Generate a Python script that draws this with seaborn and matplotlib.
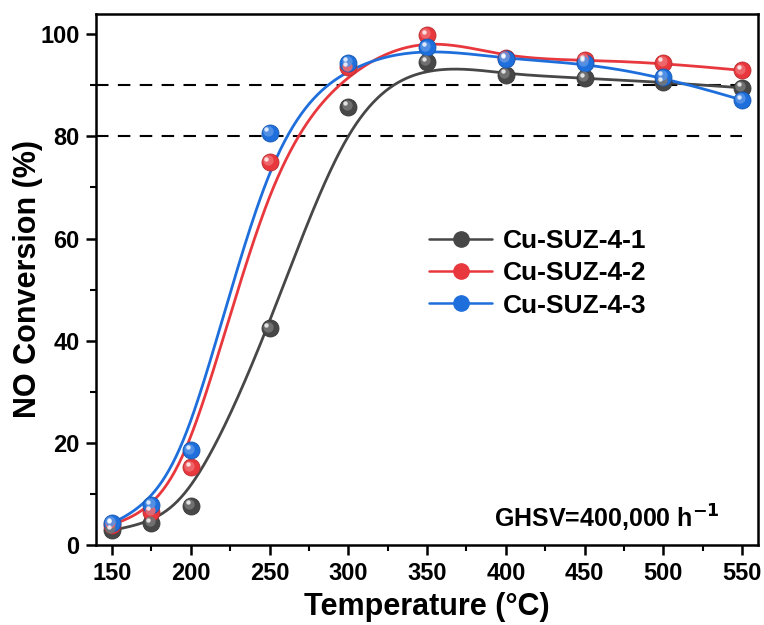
import numpy as np
import pandas as pd
import matplotlib
matplotlib.use("Agg")
import matplotlib.pyplot as plt
import matplotlib.transforms as mtransforms
from matplotlib.lines import Line2D
import matplotlib.colors as mcolors
import seaborn as sns

# ---- data ----
temps = [150, 175, 200, 250, 300, 350, 400, 450, 500, 550]
cu_suz_4_1 = [2.9, 4.3, 7.7, 42.4, 85.8, 94.5, 92.1, 91.4, 90.6, 89.5]
cu_suz_4_2 = [4.0, 6.5, 15.2, 75.0, 93.5, 99.8, 95.3, 94.9, 94.4, 92.9]
cu_suz_4_3 = [4.3, 7.8, 18.5, 80.7, 94.4, 97.4, 95.1, 94.4, 91.7, 87.1]
series_names = ["Cu-SUZ-4-1", "Cu-SUZ-4-2", "Cu-SUZ-4-3"]
ref_levels = [80, 90]
x_ticks = [150, 200, 250, 300, 350, 400, 450, 500, 550]
y_ticks = [0, 20, 40, 60, 80, 100]

colors = ["#474747", "#e8383d", "#1e6fdc"]

sns.set_theme(style="ticks")
plt.rcParams["font.family"] = ["Liberation Sans Narrow", "Liberation Sans", "DejaVu Sans"]
plt.rcParams["font.weight"] = "bold"
plt.rcParams["mathtext.default"] = "bf"
for key in ["text.color", "axes.labelcolor", "xtick.color", "ytick.color", "axes.edgecolor"]:
    plt.rcParams[key] = "black"


def bspline(px, py, npts=400, k=3):
    P = np.column_stack([px, py]).astype(float)
    n = len(P)
    inner = np.arange(1, n - k)
    knots = np.concatenate([np.zeros(k + 1), inner, np.full(k + 1, n - k)]).astype(float)
    u = np.linspace(0, n - k, npts)
    u[-1] -= 1e-9
    N = np.zeros((npts, len(knots) - 1))
    for i in range(len(knots) - 1):
        N[:, i] = ((u >= knots[i]) & (u < knots[i + 1])).astype(float)
    for d in range(1, k + 1):
        Nn = np.zeros((npts, len(knots) - 1 - d))
        for i in range(len(knots) - 1 - d):
            a = knots[i + d] - knots[i]
            b = knots[i + d + 1] - knots[i + 1]
            t1 = (u - knots[i]) / a * N[:, i] if a > 0 else 0
            t2 = (knots[i + d + 1] - u) / b * N[:, i + 1] if b > 0 else 0
            Nn[:, i] = t1 + t2
        N = Nn
    C = N @ P
    return C[:, 0], C[:, 1]


def lighten(c, f):
    r = np.array(mcolors.to_rgb(c))
    return tuple(r + (1 - r) * f)


fig = plt.figure(figsize=(7.64, 6.25), dpi=100)
ax = fig.add_axes([0.126, 0.128, 0.866, 0.85])

all_series = [cu_suz_4_1, cu_suz_4_2, cu_suz_4_3]
rows = []
for name, vals in zip(series_names, all_series):
    for t, v in zip(temps, vals):
        rows.append({"Temperature": t, "Conversion": v, "Sample": name})
df = pd.DataFrame(rows)

ax.hlines(ref_levels, 140, max(temps), colors="black", linestyles=(0, (6, 4.5)), linewidth=1.5, zorder=1)

for name, col in zip(series_names, colors):
    sub = df[df["Sample"] == name]
    bx, by = bspline(sub["Temperature"].values, sub["Conversion"].values)
    sns.lineplot(x=bx, y=by, ax=ax, color=col, linewidth=2.0, sort=False, estimator=None, zorder=2)

hl1 = mtransforms.offset_copy(ax.transData, fig=fig, x=-1.3, y=1.3, units="points")
hl2 = mtransforms.offset_copy(ax.transData, fig=fig, x=-2.2, y=2.4, units="points")
for name, col in zip(series_names, colors):
    sub = df[df["Sample"] == name]
    sns.scatterplot(data=sub, x="Temperature", y="Conversion", ax=ax, color=col, s=150,
                    edgecolor=mcolors.to_hex(tuple(np.array(mcolors.to_rgb(col)) * 0.8)),
                    linewidth=0.6, zorder=3, legend=False)
    ax.scatter(sub["Temperature"], sub["Conversion"], s=55, color=lighten(col, 0.25), alpha=0.9,
               linewidths=0, zorder=4, transform=hl1)
    ax.scatter(sub["Temperature"], sub["Conversion"], s=10, color="white", alpha=0.8,
               linewidths=0, zorder=5, transform=hl2)

ax.set_xlim(140, 560)
ax.set_ylim(0, 104)
ax.set_xticks(x_ticks)
ax.set_yticks(y_ticks)
ax.set_xticks([175, 225, 275, 325, 375, 425, 475, 525], minor=True)
ax.set_yticks([10, 30, 50, 70, 90], minor=True)
ax.tick_params(axis="both", which="major", direction="out", length=7, width=1.8, labelsize=17, pad=5)
ax.tick_params(axis="both", which="minor", direction="out", length=4, width=1.5)
for lab in ax.get_xticklabels() + ax.get_yticklabels():
    lab.set_fontweight("bold")
for s in ax.spines.values():
    s.set_linewidth(1.8)
    s.set_color("black")

ax.set_xlabel("Temperature (°C)", fontsize=22, fontweight="bold", labelpad=5)
ax.set_ylabel("NO Conversion (%)", fontsize=22, fontweight="bold", labelpad=-2)

handles = [Line2D([0], [0], color=c, lw=1.8, marker="o", markersize=11, markerfacecolor=c,
                  markeredgecolor=c) for c in colors]
ax.legend(handles, series_names, loc="upper left", bbox_to_anchor=(0.475, 0.63), frameon=False,
          prop={"weight": "bold", "size": 19}, handlelength=2.4, numpoints=1, labelspacing=0.32,
          handletextpad=0.4, borderpad=0.2)

ax.text(0.943, 0.05, "GHSV=400,000 h$^{\\mathbf{-1}}$", transform=ax.transAxes, ha="right", va="center",
        fontsize=18, fontweight="bold")

fig.savefig("out.png", dpi=100)
